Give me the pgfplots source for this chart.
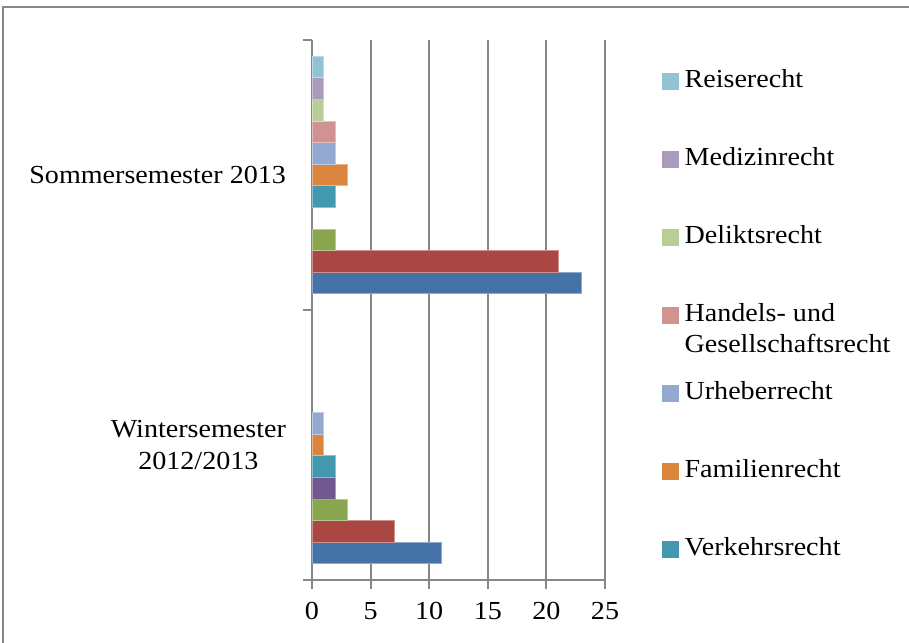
\documentclass[border=0pt]{standalone}
\usepackage{fontspec}
\setmainfont{Liberation Serif}[FakeStretch=1.08]
\usepackage{pgfplots}
\pgfplotsset{compat=1.18}
\definecolor{gridg}{RGB}{134,134,134}
\definecolor{c1}{HTML}{4572A7}
\definecolor{c2}{HTML}{AA4643}
\definecolor{c3}{HTML}{89A54E}
\definecolor{c4}{HTML}{71588F}
\definecolor{c5}{HTML}{4198AF}
\definecolor{c6}{HTML}{DB843D}
\definecolor{c7}{HTML}{93A9CF}
\definecolor{c8}{HTML}{D19392}
\definecolor{c9}{HTML}{B9CD96}
\definecolor{c10}{HTML}{A99BBD}
\definecolor{c11}{HTML}{91C3D5}
\pgfplotsset{mylegend/.style={legend image code/.code={\fill[##1,draw=none] (0pt,-4.2pt) rectangle (8.4pt,4.2pt);}}}
\begin{document}
\fontsize{13}{15.6}\selectfont
\begin{tikzpicture}
\path (0,0) rectangle (454.5pt,-321pt);
\draw[gridg, line width=0.8pt] (1.5pt,-330pt) -- (1.5pt,-3.5pt) -- (460pt,-3.5pt);
\begin{axis}[
  at={(156pt,-290pt)}, anchor=south west,
  scale only axis, width=146.5pt, height=270pt,
  xbar, bar width=0.08,
  xmin=0, xmax=25, ymin=-0.5, ymax=1.5,
  xtick={0,5,...,25},
  ytick={0,1},
  yticklabels={{Wintersemester\\2012/2013},{Sommersemester 2013}},
  yticklabel style={align=center, font=\fontsize{13}{15.6}\selectfont, xshift=-4pt},
  xticklabel style={font=\fontsize{13}{15.6}\selectfont, yshift=-2pt},
  /pgf/number format/assume math mode=true,
  axis x line=bottom, axis y line=left,
  axis line style={-, draw=gridg, line width=1pt},
  tick align=outside,
  major tick length=4.5pt,
  every tick/.style={draw=gridg, line width=1pt},
  major y tick style={draw=none},
  extra y ticks={-0.5,0.5,1.5},
  extra y tick labels={},
  extra y tick style={major y tick style={draw=gridg, line width=1pt}, major tick length=4.5pt},
  xmajorgrids,
  grid style={draw=gridg, line width=1pt},
  reverse legend,
  legend cell align=left,
  legend style={draw=none, fill=none, at={(1.172,0.9537)}, anchor=north west,
    font=\fontsize{13}{15.6}\selectfont, row sep=27pt, column sep=3pt,
    nodes={inner sep=0pt, text height=9pt, text depth=3pt}},
]
\addplot[fill=c1, draw=c1!60!white, line width=0.4pt, bar shift=-0.4, forget plot] coordinates {(11,0) (23,1)};
\addplot[fill=c2, draw=c2!60!white, line width=0.4pt, bar shift=-0.32, forget plot] coordinates {(7,0) (21,1)};
\addplot[fill=c3, draw=c3!60!white, line width=0.4pt, bar shift=-0.24, forget plot] coordinates {(3,0) (2,1)};
\addplot[fill=c4, draw=c4!60!white, line width=0.4pt, bar shift=-0.16, forget plot] coordinates {(2,0)};
\addplot[fill=c5, draw=c5!60!white, line width=0.4pt, bar shift=-0.08, mylegend] coordinates {(2,0) (2,1)};
\addlegendentry{Verkehrsrecht}
\addplot[fill=c6, draw=c6!60!white, line width=0.4pt, bar shift=0, mylegend] coordinates {(1,0) (3,1)};
\addlegendentry{Familienrecht}
\addplot[fill=c7, draw=c7!60!white, line width=0.4pt, bar shift=0.08, mylegend] coordinates {(1,0) (2,1)};
\addlegendentry{Urheberrecht}
\addplot[fill=c8, draw=c8!60!white, line width=0.4pt, bar shift=0.16, mylegend] coordinates {(2,1)};
\addlegendentry{\smash{\begin{tabular}[t]{@{}l@{}}Handels- und\\Gesellschaftsrecht\end{tabular}}}
\addplot[fill=c9, draw=c9!60!white, line width=0.4pt, bar shift=0.24, mylegend] coordinates {(1,1)};
\addlegendentry{Deliktsrecht}
\addplot[fill=c10, draw=c10!60!white, line width=0.4pt, bar shift=0.32, mylegend] coordinates {(1,1)};
\addlegendentry{Medizinrecht}
\addplot[fill=c11, draw=c11!60!white, line width=0.4pt, bar shift=0.4, mylegend] coordinates {(1,1)};
\addlegendentry{Reiserecht}
\end{axis}
\pgfresetboundingbox
\useasboundingbox (0,0) rectangle (454.5pt,-321pt);
\end{tikzpicture}
\end{document}
